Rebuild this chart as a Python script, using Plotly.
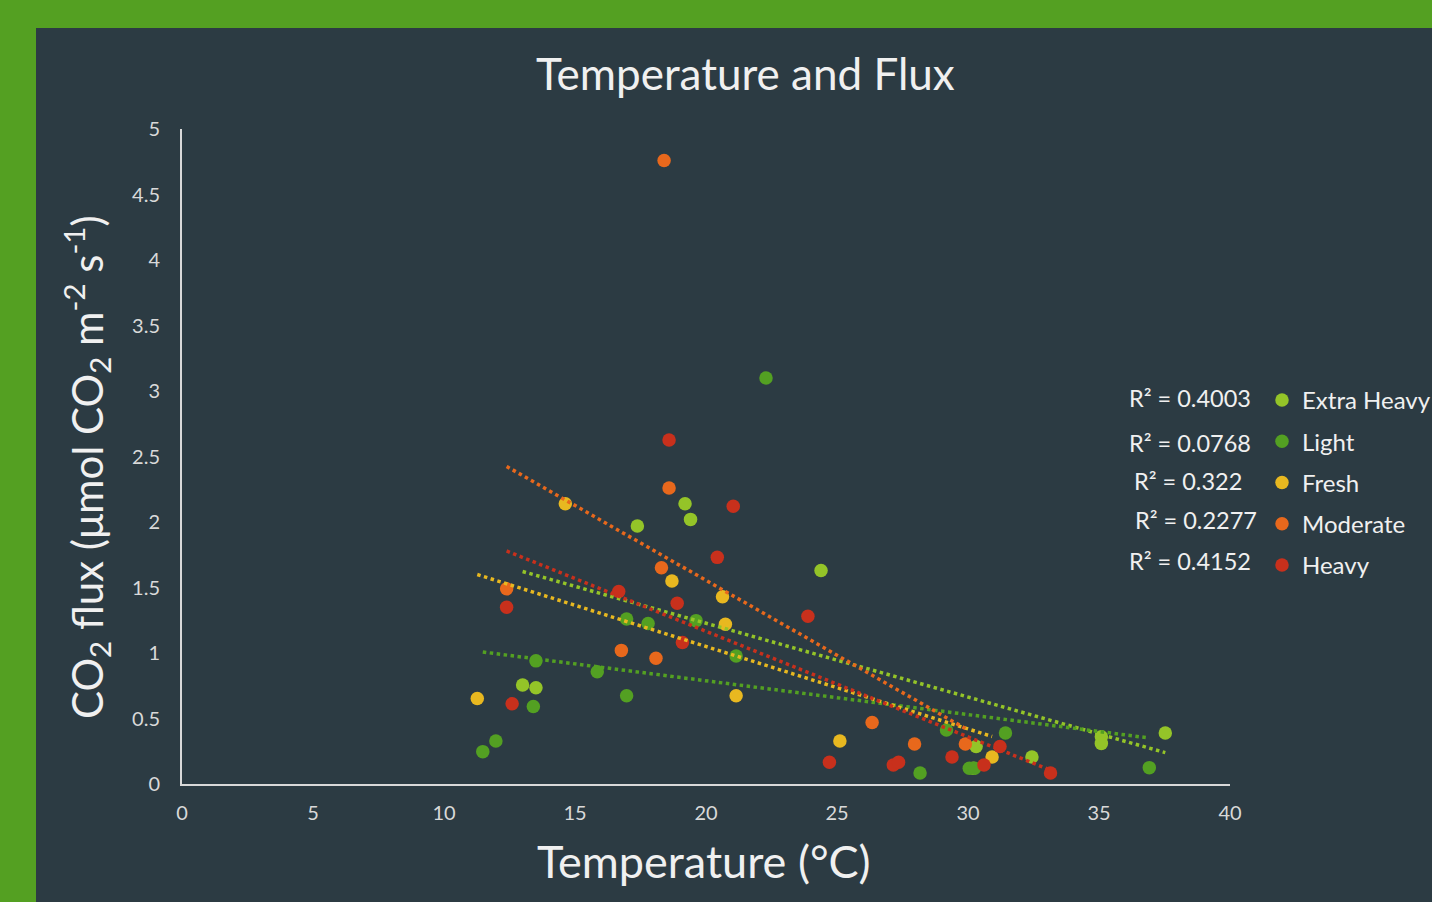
import numpy as np
import plotly.graph_objects as go

# ---------------- data ----------------
series_names = ["Extra Heavy", "Light", "Fresh", "Moderate", "Heavy"]
r2_labels = ["R² = 0.4003", "R² = 0.0768", "R² = 0.322", "R² = 0.2277", "R² = 0.4152"]

extra_heavy_temp = [13.0, 13.51, 17.38, 19.2, 19.41, 24.39, 30.2, 30.31, 32.44, 35.09, 35.09, 37.53]
extra_heavy_flux = [0.756, 0.735, 1.97, 2.14, 2.02, 1.63, 0.12, 0.286, 0.206, 0.36, 0.31, 0.389]

light_temp = [11.48, 11.98, 13.41, 13.51, 15.85, 16.97, 16.97, 17.79, 19.62, 21.15, 22.29,
              28.17, 29.18, 30.05, 30.25, 31.43, 36.92]
light_flux = [0.247, 0.328, 0.592, 0.94, 0.857, 1.26, 0.674, 1.225, 1.247, 0.977, 3.10,
              0.084, 0.412, 0.12, 0.12, 0.389, 0.125]

fresh_temp = [11.27, 14.63, 18.70, 20.63, 20.74, 21.15, 25.11, 30.92]
fresh_flux = [0.652, 2.14, 1.55, 1.43, 1.22, 0.674, 0.328, 0.206]

moderate_temp = [12.39, 16.77, 18.09, 18.30, 18.40, 18.59, 26.34, 27.96, 29.90]
moderate_flux = [1.49, 1.02, 0.96, 1.65, 4.76, 2.26, 0.47, 0.306, 0.306]

heavy_temp = [18.59, 21.04, 20.43, 12.39, 16.67, 18.90, 19.10, 12.60, 23.89, 24.71,
              27.15, 27.35, 29.39, 30.61, 31.22, 33.15]
heavy_flux = [2.626, 2.12, 1.73, 1.35, 1.47, 1.38, 1.08, 0.612, 1.28, 0.166,
              0.145, 0.166, 0.206, 0.145, 0.286, 0.084]

x_ticks = [0, 5, 10, 15, 20, 25, 30, 35, 40]
y_ticks = [0, 0.5, 1, 1.5, 2, 2.5, 3, 3.5, 4, 4.5, 5]
y_tick_text = ["0", "0.5", "1", "1.5", "2", "2.5", "3", "3.5", "4", "4.5", "5"]

# ---------------- styling ----------------
colors = ["#94c428", "#53a022", "#e8b820", "#e8681c", "#c8301c"]
BG = "#2c3b43"
BORDER = "#54a022"
TXT = "#f0f0f0"
FONT = "Lato"

temps = [extra_heavy_temp, light_temp, fresh_temp, moderate_temp, heavy_temp]
fluxes = [extra_heavy_flux, light_flux, fresh_flux, moderate_flux, heavy_flux]

# plot-area pixel geometry
W, H = 1432, 902
L, R, T, B = 182, 1230, 129, 784
pw, ph = R - L, B - T


def px(x):
    return (x - L) / pw


def py(y):
    return (B - y) / ph


fig = go.Figure()

for name, xs, ys, c in zip(series_names, temps, fluxes, colors):
    fig.add_trace(go.Scatter(
        x=xs, y=ys, mode="markers", name=name, legendgroup=name,
        marker=dict(color=c, size=13.5, line=dict(width=0)),
    ))

# linear trendlines computed from the data
for name, xs, ys, c in zip(series_names, temps, fluxes, colors):
    xa, ya = np.array(xs), np.array(ys)
    m, b = np.polyfit(xa, ya, 1)
    xl = np.array([xa.min(), xa.max()])
    fig.add_trace(go.Scatter(
        x=xl, y=m * xl + b, mode="lines", showlegend=False, hoverinfo="skip",
        line=dict(color=c, width=3.5, dash="3.5px,3.5px"),
    ))

# panel background
fig.add_shape(type="rect", xref="paper", yref="paper",
              x0=px(36), x1=px(W + 5), y0=py(H + 5), y1=py(28),
              fillcolor=BG, line=dict(width=0), layer="below")

annotations = [
    dict(text="Temperature and Flux", x=px(745), y=py(73), xref="paper", yref="paper",
         showarrow=False, xanchor="center", yanchor="middle",
         font=dict(size=44, color=TXT, family=FONT)),
    dict(text="Temperature (°C)", x=px(704), y=py(861), xref="paper", yref="paper",
         showarrow=False, xanchor="center", yanchor="middle",
         font=dict(size=45, color=TXT, family=FONT)),
    dict(text="CO<sub>2</sub> flux (μmol CO<sub>2</sub> m<sup>-2</sup> s<sup>-1</sup>)",
         x=px(86), y=py(467), xref="paper", yref="paper", textangle=-90,
         showarrow=False, xanchor="center", yanchor="middle",
         font=dict(size=42, color=TXT, family=FONT)),
]

r2_pos = [(1127, 398), (1127, 443), (1132, 481), (1133, 520), (1127, 561)]
for lbl, (ax, ay) in zip(r2_labels, r2_pos):
    annotations.append(dict(text=lbl, x=px(ax), y=py(ay), xref="paper", yref="paper",
                            showarrow=False, xanchor="left", yanchor="middle",
                            font=dict(size=23.5, color=TXT, family=FONT)))

fig.update_layout(
    width=W, height=H,
    paper_bgcolor=BORDER, plot_bgcolor=BG,
    margin=dict(l=L, r=W - R, t=T, b=H - B, pad=0, autoexpand=False),
    font=dict(family=FONT, color=TXT),
    showlegend=True,
    legend=dict(x=px(1262), y=py(378), xanchor="left", yanchor="top",
                bgcolor="rgba(0,0,0,0)", borderwidth=0,
                traceorder="grouped", tracegroupgap=7,
                font=dict(size=24, color=TXT, family=FONT)),
    annotations=annotations,
)

fig.update_xaxes(range=[0, 40], tickvals=x_ticks, showgrid=False, zeroline=False,
                 showline=True, linecolor="#d9d9d9", linewidth=2, ticks="",
                 tickfont=dict(size=20, color="#d9d9d9", family=FONT),
                 ticklabelstandoff=10, fixedrange=True)
fig.update_yaxes(range=[0, 5], tickvals=y_ticks, ticktext=y_tick_text, showgrid=False,
                 zeroline=False, showline=True, linecolor="#d9d9d9", linewidth=2, ticks="",
                 tickfont=dict(size=20, color="#d9d9d9", family=FONT),
                 ticklabelstandoff=16, fixedrange=True)

fig.write_html(
    "out.html",
    config={"displayModeBar": False},
    post_script="document.body.style.margin='0px';document.body.style.overflow='hidden';",
)
